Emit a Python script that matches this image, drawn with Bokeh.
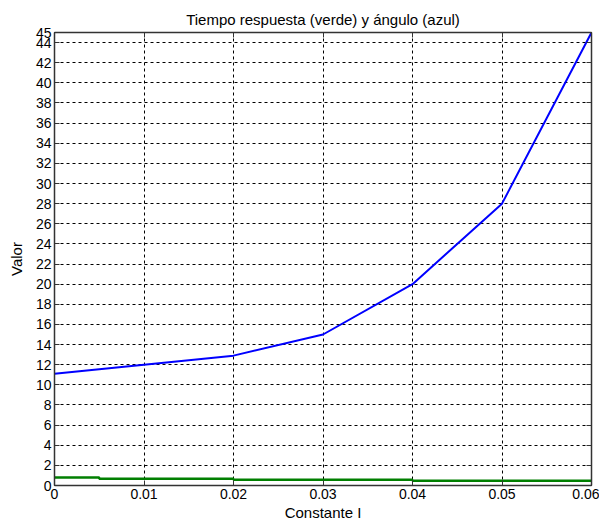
from bokeh.plotting import figure
from bokeh.models import FixedTicker, LinearAxis, Range1d
from bokeh.embed import file_html
from bokeh.resources import INLINE

# Data
constante = [0.0, 0.01, 0.02, 0.03, 0.04, 0.05, 0.06]
angulo = [11.1, 12.0, 12.9, 15.0, 20.0, 28.0, 45.0]

tiempo_x = [0.0, 0.005, 0.02, 0.04, 0.06]
tiempo_y = [0.8, 0.67, 0.57, 0.47, 0.47]

x_ticks = [0.0, 0.01, 0.02, 0.03, 0.04, 0.05, 0.06]
x_tick_labels = ["0", "0.01", "0.02", "0.03", "0.04", "0.05", "0.06"]
y_ticks = [0, 2, 4, 6, 8, 10, 12, 14, 16, 18, 20, 22, 24, 26, 28, 30,
           32, 34, 36, 38, 40, 42, 44, 45]

FONT = "Liberation Sans"

p = figure(width=599, height=523, output_backend="svg", toolbar_location=None,
           x_range=Range1d(0, 0.06), y_range=Range1d(0, 45),
           min_border_left=54, min_border_right=8, min_border_top=32,
           min_border_bottom=32, background_fill_color="white",
           border_fill_color="white")

p.title.text = "Tiempo respuesta (verde) y ángulo (azul)"
p.title.align = "center"
p.title.text_font = FONT
p.title.text_font_style = "normal"
p.title.text_font_size = "15px"
p.title.text_color = "black"

p.outline_line_color = "black"
p.outline_line_width = 1

# Lines
p.line(constante, angulo, line_color="#0000ff", line_width=2)
p.step(tiempo_x, tiempo_y, mode="after", line_color="#007f00", line_width=2.5)

# Axes
xa = p.xaxis[0]
xa.ticker = FixedTicker(ticks=x_ticks)
xa.major_label_overrides = {t: l for t, l in zip(x_ticks, x_tick_labels)}
xa.axis_label = "Constante I"
ya = p.yaxis[0]
ya.ticker = FixedTicker(ticks=y_ticks)
ya.axis_label = "Valor"

for ax in (xa, ya):
    ax.major_label_text_font = FONT
    ax.major_label_text_font_size = "14px"
    ax.major_label_text_color = "black"
    ax.axis_label_text_font = FONT
    ax.axis_label_text_font_size = "15px"
    ax.axis_label_text_font_style = "normal"
    ax.axis_label_text_color = "black"
    ax.axis_line_color = "#333333"
    ax.axis_line_width = 1.5
    ax.major_tick_in = 5
    ax.major_tick_out = 0
    ax.major_tick_line_color = "#333333"
    ax.minor_tick_line_color = None
    ax.major_label_standoff = 3
    ax.axis_label_standoff = 2

ya.axis_label_standoff = 8

top_ax = LinearAxis(ticker=FixedTicker(ticks=x_ticks))
right_ax = LinearAxis(ticker=FixedTicker(ticks=y_ticks))
for ax in (top_ax, right_ax):
    ax.major_label_text_font_size = "0px"
    ax.major_label_text_color = None
    ax.major_label_standoff = 0
    ax.major_tick_in = 5
    ax.major_tick_out = 0
    ax.minor_tick_line_color = None
    ax.axis_line_color = "#333333"
    ax.axis_line_width = 1.5
    ax.major_tick_line_color = "#333333"
p.add_layout(top_ax, "above")
p.add_layout(right_ax, "right")

# Grid
p.xgrid.ticker = FixedTicker(ticks=x_ticks)
p.ygrid.ticker = FixedTicker(ticks=y_ticks)
for g in (p.xgrid, p.ygrid):
    g.grid_line_color = "black"
    g.grid_line_dash = "3 3"
    g.grid_line_width = 1
    g.grid_line_alpha = 1.0

open("out.html", "w").write(file_html(p, INLINE))
